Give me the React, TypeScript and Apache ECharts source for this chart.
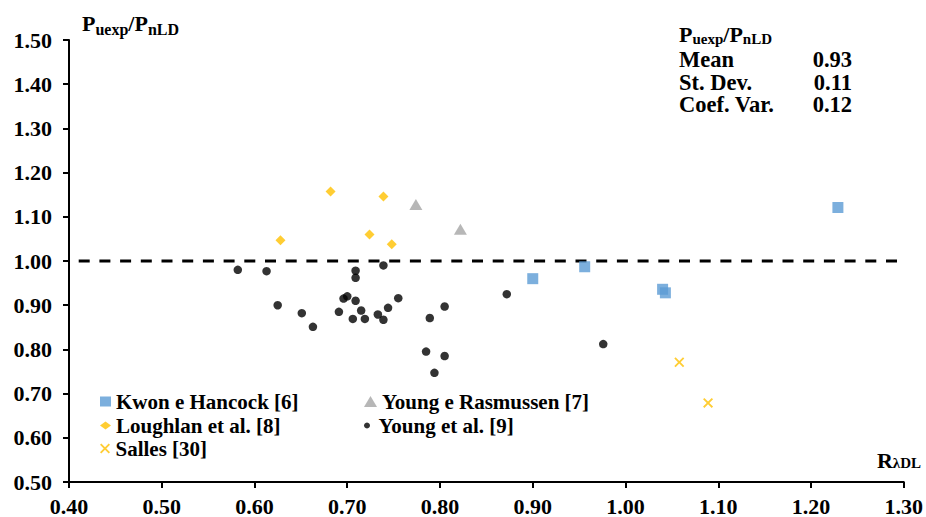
import { useEffect, useRef } from "react";
import * as echarts from "echarts";

const FONT = '"Liberation Serif", "Times New Roman", serif';
const INK = "#000";

// Axis ranges and tick step
const X_MIN = 0.4;
const X_MAX = 1.3;
const Y_MIN = 0.5;
const Y_MAX = 1.5;
const STEP = 0.1;

// [R_λDL, Puexp/PnLD]
const kwonHancock = [
  [0.9, 0.96],
  [0.956, 0.987],
  [1.04, 0.936],
  [1.043, 0.928],
  [1.229, 1.121],
];
const youngRasmussen = [
  [0.774, 1.128],
  [0.822, 1.072],
];
const loughlan = [
  [0.682, 1.157],
  [0.739, 1.146],
  [0.628, 1.047],
  [0.724, 1.06],
  [0.748, 1.038],
];
const youngEtAl = [
  [0.582, 0.98],
  [0.613, 0.977],
  [0.625, 0.9],
  [0.651, 0.882],
  [0.663, 0.851],
  [0.691, 0.885],
  [0.696, 0.915],
  [0.7, 0.92],
  [0.709, 0.91],
  [0.709, 0.978],
  [0.709, 0.962],
  [0.706, 0.869],
  [0.715, 0.888],
  [0.719, 0.869],
  [0.733, 0.879],
  [0.739, 0.99],
  [0.739, 0.867],
  [0.744, 0.894],
  [0.755, 0.916],
  [0.789, 0.871],
  [0.805, 0.897],
  [0.785, 0.795],
  [0.805, 0.785],
  [0.794, 0.747],
  [0.872, 0.925],
  [0.976, 0.812],
];
const salles = [
  [1.058, 0.771],
  [1.089, 0.679],
];
const unityLine = [
  [0.4, 1.0],
  [1.3, 1.0],
];

const seriesNames = [
  "Kwon e Hancock [6]",
  "Young e Rasmussen [7]",
  "Loughlan et al. [8]",
  "Young et al. [9]",
  "Salles [30]",
];

const statLabels = ["Mean", "St. Dev.", "Coef. Var."];
const statValues = ["0.93", "0.11", "0.12"];

const CROSS =
  "path://M1.3,0 L5,3.7 L8.7,0 L10,1.3 L6.3,5 L10,8.7 L8.7,10 L5,6.3 L1.3,10 L0,8.7 L3.7,5 L0,1.3 Z";

const boldText = { fontFamily: FONT, fontWeight: "bold" as const, color: INK };

// P with subscripts: the small tokens sit at the bottom of a taller line box
const axisRatioRich = {
  p: { ...boldText, fontSize: 22, lineHeight: 28 },
  s: { ...boldText, fontSize: 16, lineHeight: 16, verticalAlign: "bottom" },
};
const statRatioRich = {
  p: { ...boldText, fontSize: 22, lineHeight: 24 },
  s: { ...boldText, fontSize: 15, lineHeight: 13, verticalAlign: "bottom" },
};

function legendItem(name: string, left: number, top: number, w: number, h: number) {
  return {
    data: [name],
    left,
    top,
    padding: 0,
    itemWidth: w,
    itemHeight: h,
    selectedMode: false,
    textStyle: { ...boldText, fontSize: 21 },
  };
}

export default function App() {
  const ref = useRef<HTMLDivElement>(null);

  useEffect(() => {
    if (!ref.current) return;
    const chart = echarts.init(ref.current, undefined, { renderer: "svg" });

    const statGraphics: any[] = [];
    statLabels.forEach((label, i) => {
      const y = 59.5 + i * 22.6;
      statGraphics.push({
        type: "text",
        x: 679,
        y,
        style: { text: label, ...boldText, fill: INK, fontSize: 22.5, verticalAlign: "middle", align: "left" },
      });
      statGraphics.push({
        type: "text",
        x: 852,
        y,
        style: { text: statValues[i], ...boldText, fill: INK, fontSize: 22.5, verticalAlign: "middle", align: "right" },
      });
    });

    chart.setOption({
      animation: false,
      backgroundColor: "#fff",
      grid: { left: 69, right: 20, top: 40, bottom: 35, containLabel: false },
      xAxis: {
        type: "value",
        min: X_MIN,
        max: X_MAX,
        interval: STEP,
        axisLine: { show: true, lineStyle: { color: INK, width: 2 } },
        axisTick: { show: true, inside: false, length: 6, lineStyle: { color: INK, width: 2 } },
        splitLine: { show: false },
        axisLabel: {
          ...boldText,
          fontSize: 22,
          margin: 13,
          formatter: (v: number) => v.toFixed(2),
        },
      },
      yAxis: {
        type: "value",
        min: Y_MIN,
        max: Y_MAX,
        interval: STEP,
        axisLine: { show: true, lineStyle: { color: INK, width: 2 } },
        axisTick: { show: true, inside: false, length: 6, lineStyle: { color: INK, width: 2 } },
        splitLine: { show: false },
        axisLabel: {
          ...boldText,
          fontSize: 22,
          margin: 17,
          formatter: (v: number) => v.toFixed(2),
        },
      },
      legend: [
        legendItem(seriesNames[0], 100, 391, 11, 10),
        legendItem(seriesNames[1], 364, 391, 13, 11),
        legendItem(seriesNames[2], 100, 415, 11, 8),
        legendItem(seriesNames[3], 364, 415, 13, 6),
        legendItem(seriesNames[4], 100, 438, 11, 10),
      ],
      graphic: [
        {
          type: "text",
          x: 82,
          y: 23,
          style: {
            text: "{p|P}{s|uexp}{p|/P}{s|nLD}",
            rich: axisRatioRich,
            verticalAlign: "middle",
            align: "left",
          },
        },
        {
          type: "text",
          x: 679,
          y: 34,
          style: {
            text: "{p|P}{s|uexp}{p|/P}{s|nLD}",
            rich: statRatioRich,
            verticalAlign: "middle",
            align: "left",
          },
        },
        ...statGraphics,
        {
          type: "text",
          x: 921,
          y: 460,
          style: {
            text: "{r|R}{s|λDL}",
            rich: {
              r: { ...boldText, fontSize: 22, lineHeight: 20 },
              s: { ...boldText, fontSize: 15, lineHeight: 15, verticalAlign: "bottom" },
            },
            verticalAlign: "middle",
            align: "right",
          },
        },
      ],
      series: [
        {
          type: "line",
          data: unityLine,
          symbol: "none",
          silent: true,
          lineStyle: { color: INK, width: 3, type: [11, 9.7], dashOffset: 11 },
          z: 1,
        },
        {
          name: seriesNames[0],
          type: "scatter",
          data: kwonHancock,
          symbol: "rect",
          symbolSize: 11,
          itemStyle: { color: "#5B9BD5" },
          z: 3,
        },
        {
          name: seriesNames[1],
          type: "scatter",
          data: youngRasmussen,
          symbol: "triangle",
          symbolSize: [13, 11],
          itemStyle: { color: "#A5A5A5" },
          z: 3,
        },
        {
          name: seriesNames[2],
          type: "scatter",
          data: loughlan,
          symbol: "diamond",
          symbolSize: 10,
          itemStyle: { color: "#FFC000" },
          z: 3,
        },
        {
          name: seriesNames[3],
          type: "scatter",
          data: youngEtAl,
          symbol: "circle",
          symbolSize: 8.5,
          itemStyle: { color: INK },
          z: 3,
        },
        {
          name: seriesNames[4],
          type: "scatter",
          data: salles,
          symbol: CROSS,
          symbolSize: 10,
          itemStyle: { color: "#FFC000" },
          z: 3,
        },
      ],
    });

    return () => chart.dispose();
  }, []);

  return (
    <div
      ref={ref}
      style={{ position: "fixed", left: 0, top: 0, width: 926, height: 517, background: "#fff" }}
    />
  );
}
